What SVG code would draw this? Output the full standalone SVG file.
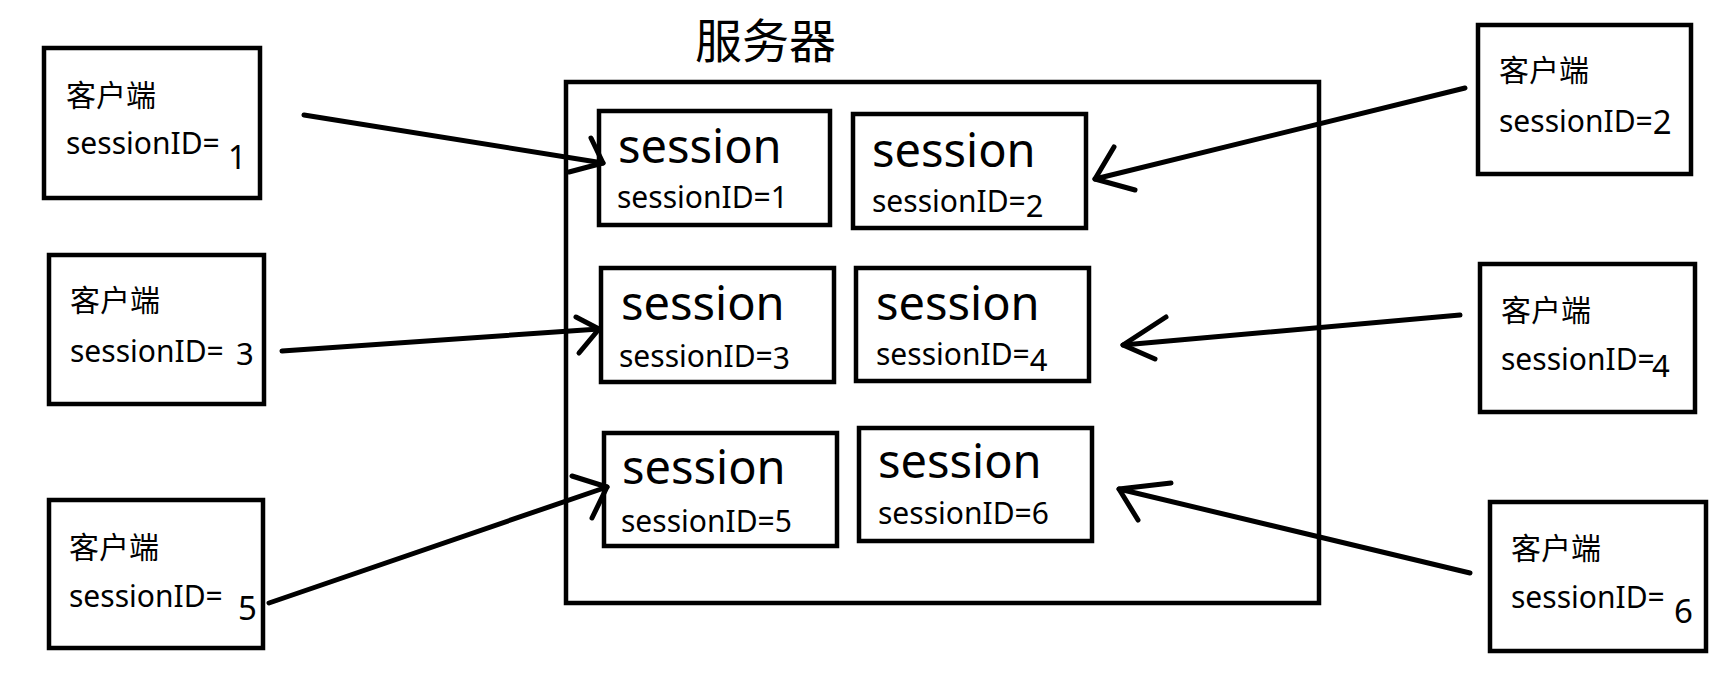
<svg xmlns="http://www.w3.org/2000/svg" width="1720" height="674" viewBox="0 0 1720 674">
<style>
.box{fill:#fff;stroke:#000;stroke-width:4.5}
.ln{fill:none;stroke:#000;stroke-width:5;stroke-linecap:round;stroke-linejoin:round}
text{font-family:"Noto Sans","Noto Sans CJK SC",sans-serif;fill:#000}
.t{font-size:30px}
.big{font-size:47px}
.title{font-size:47px}
</style>
<rect width="1720" height="674" fill="#fff"/>
<g id="server">
<rect class="box" x="566" y="82" width="753" height="521"/>
<text class="title" x="695" y="58">服务器</text>
</g>
<g id="session1"><rect class="box" x="599" y="111" width="231" height="114"/><text class="big" x="618" y="163">session</text><text class="t" x="617" y="208">sessionID=1</text></g>
<g id="session2"><rect class="box" x="853" y="114" width="233" height="114"/><text class="big" x="872" y="167">session</text><text class="t" x="872" y="212">sessionID=<tspan y="217" style="font-size:31px">2</tspan></text></g>
<g id="session3"><rect class="box" x="601" y="268" width="233" height="114"/><text class="big" x="621" y="320">session</text><text class="t" x="619" y="367">sessionID=<tspan y="369">3</tspan></text></g>
<g id="session4"><rect class="box" x="856" y="268" width="233" height="113"/><text class="big" x="876" y="320">session</text><text class="t" x="876" y="365">sessionID=<tspan y="371" style="font-size:31px">4</tspan></text></g>
<g id="session5"><rect class="box" x="604" y="433" width="233" height="113"/><text class="big" x="622" y="484">session</text><text class="t" x="621" y="532">sessionID=5</text></g>
<g id="session6"><rect class="box" x="859" y="428" width="233" height="113"/><text class="big" x="878" y="478">session</text><text class="t" x="878" y="524">sessionID=6</text></g>
<g id="client1"><rect class="box" x="44" y="48" width="216" height="150"/><text class="t" x="66" y="106">客户端</text><text class="t" x="66" y="154">sessionID=</text><text x="228" y="169" style="font-size:32px">1</text></g>
<g id="client2"><rect class="box" x="1478" y="25" width="213" height="149"/><text class="t" x="1499" y="81">客户端</text><text class="t" x="1499" y="132">sessionID=<tspan y="134" style="font-size:33px">2</tspan></text></g>
<g id="client3"><rect class="box" x="49" y="255" width="215" height="149"/><text class="t" x="70" y="311">客户端</text><text class="t" x="70" y="362">sessionID=</text><text x="236" y="365" style="font-size:31px">3</text></g>
<g id="client4"><rect class="box" x="1480" y="264" width="215" height="148"/><text class="t" x="1501" y="321">客户端</text><text class="t" x="1501" y="370">sessionID=</text><text x="1652" y="377" style="font-size:31px">4</text></g>
<g id="client5"><rect class="box" x="49" y="500" width="214" height="148"/><text class="t" x="69" y="558">客户端</text><text class="t" x="69" y="607">sessionID=</text><text x="238" y="620" style="font-size:33px">5</text></g>
<g id="client6"><rect class="box" x="1490" y="502" width="216" height="149"/><text class="t" x="1511" y="559">客户端</text><text class="t" x="1511" y="608">sessionID=</text><text x="1674" y="623" style="font-size:33px">6</text></g>
<g id="connectors">
<path class="ln" d="M304 115 L603 163"/><path class="ln" d="M591 138 L603 163 L569 172"/>
<path class="ln" d="M1465 88 L1095 179"/><path class="ln" d="M1114 147 L1095 179 L1135 190"/>
<path class="ln" d="M282 351 L599 329"/><path class="ln" d="M576 317 L599 329 L579 353"/>
<path class="ln" d="M1460 315 L1123 345"/><path class="ln" d="M1166 317 L1123 345 L1155 359"/>
<path class="ln" d="M269 603 L607 487"/><path class="ln" d="M572 476 L607 487 L592 518"/>
<path class="ln" d="M1470 573 L1119 489"/><path class="ln" d="M1171 483 L1119 489 L1138 520"/>
</g>
</svg>
